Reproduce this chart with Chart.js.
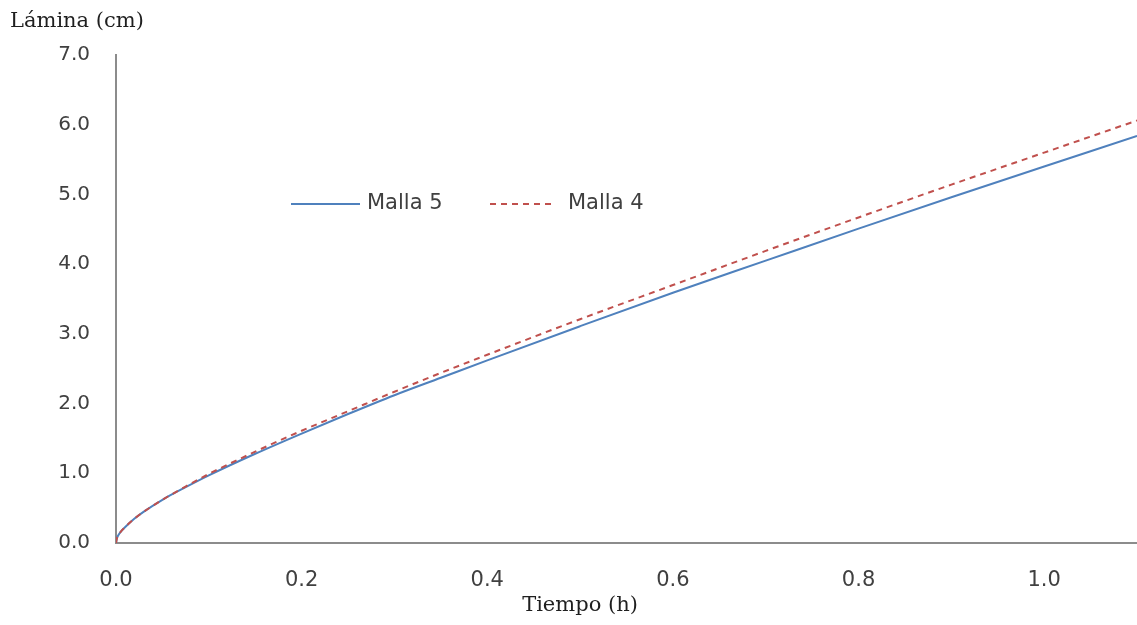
<!DOCTYPE html>
<html>
<head>
<meta charset="utf-8">
<script src="https://cdn.jsdelivr.net/npm/chart.js@4"></script>
<style>
  html, body { margin: 0; padding: 0; background: #fff; }
  #wrap { width: 1137px; height: 625px; }
</style>
</head>
<body>
<div id="wrap"><canvas id="lamina" width="1137" height="625"></canvas></div>
<script>
// tiempo (h) y lámina infiltrada (cm) para cada malla
var tiempo = [0, 0.001, 0.0025, 0.005, 0.01, 0.02, 0.03, 0.05, 0.075, 0.1, 0.15, 0.2, 0.25, 0.3, 0.35, 0.4, 0.5, 0.6, 0.7, 0.8, 0.9, 1.0, 1.1];
var malla5 = [0, 0.07, 0.11, 0.16, 0.23, 0.35, 0.45, 0.62, 0.80, 0.97, 1.28, 1.57, 1.85, 2.12, 2.37, 2.62, 3.11, 3.59, 4.05, 4.51, 4.96, 5.40, 5.84];
var malla4 = [0, 0.07, 0.11, 0.16, 0.23, 0.35, 0.45, 0.62, 0.81, 0.99, 1.31, 1.61, 1.89, 2.17, 2.44, 2.70, 3.21, 3.70, 4.19, 4.67, 5.14, 5.60, 6.06];
var xTicks = [0, 0.2, 0.4, 0.6, 0.8, 1.0];

function puntos(ys) {
    return tiempo.map(function (t, i) { return { x: t, y: ys[i] }; });
}

var sans = '"DejaVu Sans", sans-serif';
var serif = '"DejaVu Serif", serif';

// títulos de ejes y leyenda dentro del área de trazado
var textos = {
    id: 'textos',
    afterDraw: function (chart) {
        var c = chart.ctx;
        c.save();
        c.fillStyle = '#1f1f1f';
        c.font = '21px ' + serif;
        c.textBaseline = 'middle';
        c.textAlign = 'left';
        c.fillText('Lámina (cm)', 10, 22);
        c.textAlign = 'center';
        c.fillText('Tiempo (h)', 580, 606);

        var y = 204;
        var ds = chart.data.datasets;
        var items = [
            { ds: ds[1], x0: 291, x1: 360, tx: 367 },
            { ds: ds[0], x0: 490, x1: 556, tx: 568 }
        ];
        items.forEach(function (it) {
            c.beginPath();
            c.strokeStyle = it.ds.borderColor;
            c.lineWidth = it.ds.borderWidth;
            c.setLineDash(it.ds.borderDash || []);
            c.moveTo(it.x0, y);
            c.lineTo(it.x1, y);
            c.stroke();
            c.setLineDash([]);
            c.fillStyle = '#404040';
            c.font = '21px ' + sans;
            c.textAlign = 'left';
            c.fillText(it.ds.label, it.tx, y);
        });
        c.restore();
    }
};

var ctx = document.getElementById('lamina').getContext('2d');
var chart = new Chart(ctx, {
    type: 'line',
    data: {
        datasets: [{
            label: 'Malla 4',
            data: puntos(malla4),
            borderColor: '#C0504D',
            borderWidth: 2,
            borderDash: [6, 5],
            pointRadius: 0,
            cubicInterpolationMode: 'monotone',
            order: 0
        }, {
            label: 'Malla 5',
            data: puntos(malla5),
            borderColor: '#4F81BD',
            borderWidth: 2,
            pointRadius: 0,
            cubicInterpolationMode: 'monotone',
            order: 1
        }]
    },
    options: {
        responsive: false,
        animation: false,
        layout: { padding: { top: 55, right: 0, left: 0, bottom: 0 } },
        plugins: {
            legend: { display: false },
            tooltip: { enabled: false }
        },
        scales: {
            x: {
                type: 'linear',
                min: 0,
                max: 1.1,
                afterFit: function (s) { s.height = 82; },
                afterBuildTicks: function (s) {
                    s.ticks = xTicks.map(function (v) { return { value: v }; });
                },
                grid: { display: false, drawTicks: false },
                border: { display: true, color: '#8c8c8c', width: 2 },
                ticks: {
                    padding: 25,
                    color: '#404040',
                    font: { family: sans, size: 21 },
                    callback: function (v) { return v.toFixed(1); }
                }
            },
            y: {
                min: 0,
                max: 7,
                afterFit: function (s) { s.width = 116; },
                grid: { display: false, drawTicks: false },
                border: { display: true, color: '#8c8c8c', width: 2 },
                ticks: {
                    stepSize: 1,
                    padding: 26,
                    color: '#404040',
                    font: { family: sans, size: 20 },
                    callback: function (v) { return v.toFixed(1); }
                }
            }
        }
    },
    plugins: [textos]
});
</script>
</body>
</html>
